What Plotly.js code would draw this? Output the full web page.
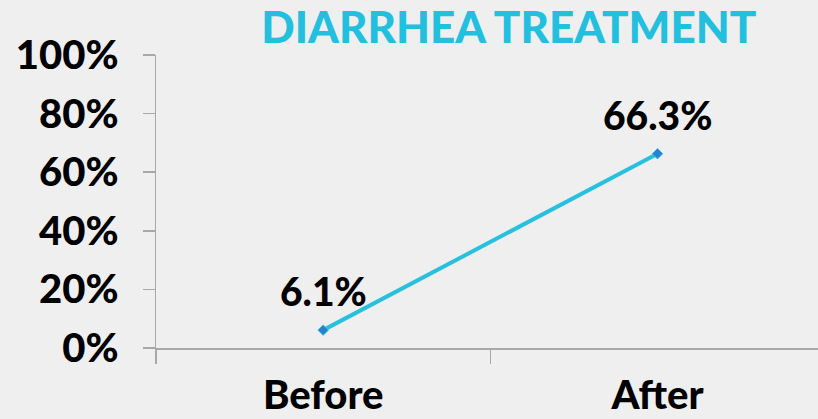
<!DOCTYPE html>
<html><head><meta charset="utf-8">
<script src="https://cdn.plot.ly/plotly-3.0.1.min.js"></script>
<style>html,body{margin:0;padding:0;background:#efefef;}#chart{width:818px;height:419px;}</style>
</head><body><div id="chart"></div>
<script>
const categories = ["Before", "After"];
const values = [0.061, 0.663];
const valueLabels = ["6.1%", "66.3%"];
const yTickVals = [0, 0.2, 0.4, 0.6, 0.8, 1.0];
const yTickText = ["0%", "20%", "40%", "60%", "80%", "100%"];

const FONT = "Lato, 'Open Sans', sans-serif";
const trace = {
  x: categories, y: values, type: "scatter", mode: "lines+markers",
  line: {color: "#27c0df", width: 4},
  marker: {symbol: "diamond", size: 8, color: "#2a7fcf", line: {color: "#27c0df", width: 1}},
  hoverinfo: "skip", cliponaxis: false
};
const annotations = categories.map((c, i) => ({
  x: c, y: values[i], xref: "x", yref: "y", text: valueLabels[i], showarrow: false,
  yshift: 39, font: {family: FONT, size: 39, color: "#000", weight: 900}
}));
const layout = {
  width: 818, height: 419,
  margin: {l: 156, r: 0, t: 55, b: 71},
  paper_bgcolor: "#efefef", plot_bgcolor: "#efefef",
  showlegend: false,
  title: {text: "DIARRHEA TREATMENT", x: 0.622, xanchor: "center", y: 0.935, yanchor: "middle",
    font: {family: FONT, size: 44, color: "#22bfdf", weight: 900}},
  xaxis: {type: "category", range: [-0.5, 1.48], tickson: "boundaries", ticks: "outside", ticklen: 14,
    tickcolor: "#a8a8a8", tickwidth: 1.5, showline: true, linecolor: "#a8a8a8", linewidth: 1.5,
    showgrid: false, zeroline: false, fixedrange: true,
    tickfont: {family: FONT, size: 40, color: "#000", weight: 900}, ticklabelstandoff: 11},
  yaxis: {range: [0, 1], tickvals: yTickVals, ticktext: yTickText, ticks: "outside", ticklen: 12,
    tickcolor: "#a8a8a8", tickwidth: 1.5, showline: true, linecolor: "#a8a8a8", linewidth: 1.5,
    showgrid: false, zeroline: false, fixedrange: true,
    tickfont: {family: FONT, size: 40, color: "#000", weight: 900}, ticklabelstandoff: 16},
  annotations: annotations
};
Plotly.newPlot("chart", [trace], layout, {displayModeBar: false, staticPlot: true});
</script></body></html>
